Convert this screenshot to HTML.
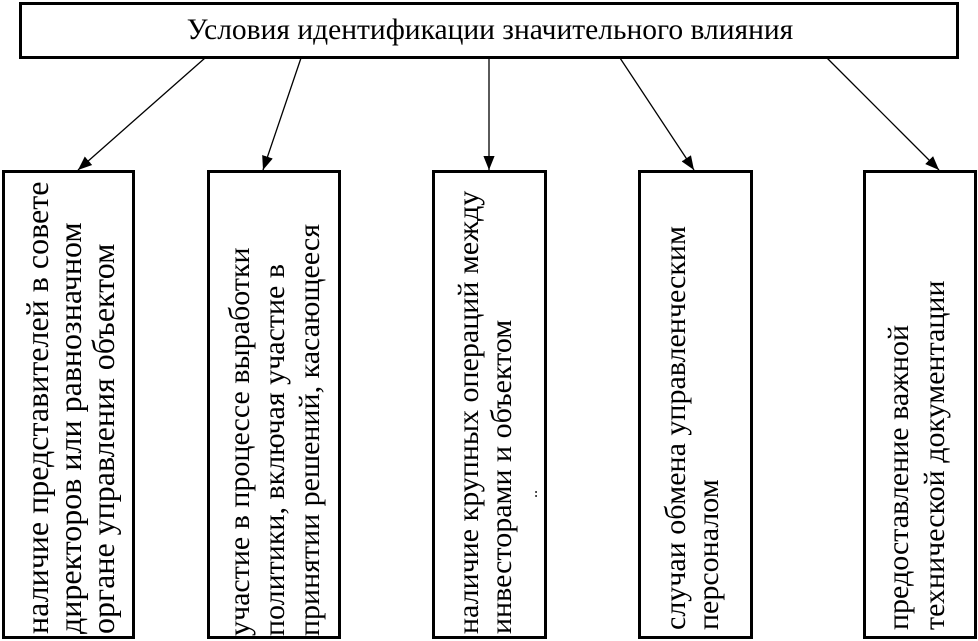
<!DOCTYPE html>
<html><head><meta charset="utf-8"><style>
html,body{margin:0;padding:0;background:#fff;}
svg{display:block;}
text{font-family:"Liberation Serif",serif;font-size:30px;fill:#000;}
</style></head><body>
<svg width="978" height="641" viewBox="0 0 978 641" xmlns="http://www.w3.org/2000/svg">
<defs>
<marker id="b" viewBox="0 0 10 10" refX="10" refY="5" markerWidth="14" markerHeight="14" orient="auto" markerUnits="userSpaceOnUse"><path d="M0,1 L10,5 L0,9 z" fill="#000"/></marker></defs>
<rect x="20.5" y="3.5" width="937" height="54" fill="#fff" stroke="#000" stroke-width="3"/>
<text x="490" y="39" text-anchor="middle" style="font-size:29.5px">Условия идентификации значительного влияния</text>
<g stroke="#000" stroke-width="1.3" fill="none">
<line x1="205" y1="58" x2="78" y2="170" marker-end="url(#b)"/>
<line x1="301" y1="58" x2="263" y2="170" marker-end="url(#b)"/>
<line x1="489" y1="58" x2="489" y2="170" marker-end="url(#b)"/>
<line x1="620" y1="58" x2="694" y2="170" marker-end="url(#b)"/>
<line x1="827" y1="58" x2="939" y2="170" marker-end="url(#b)"/>
</g>
<g fill="#fff" stroke="#000" stroke-width="3">
<rect x="3.5" y="171.5" width="130" height="466"/>
<rect x="208.5" y="171.5" width="131" height="466"/>
<rect x="433.5" y="171.5" width="112" height="466"/>
<rect x="639.5" y="171.5" width="112" height="466"/>
<rect x="864.5" y="171.5" width="111" height="466"/>
</g>
<g style="font-size:30px">
<text transform="translate(48,634) rotate(-90)" style="font-size:32px">наличие представителей в совете</text>
<text transform="translate(81,634) rotate(-90)" style="font-size:32px">директоров или равнозначном</text>
<text transform="translate(114,634) rotate(-90)" style="font-size:32px">органе управления объектом</text>
<text transform="translate(249,636) rotate(-90)">участие в процессе выработки</text>
<text transform="translate(284,636) rotate(-90)">политики, включая участие в</text>
<text transform="translate(319,636) rotate(-90)">принятии решений, касающееся</text>
<text transform="translate(478,634) rotate(-90)">наличие крупных операций между</text>
<text transform="translate(511,634) rotate(-90)">инвесторами и объектом</text>
<text transform="translate(537,498) rotate(-90)" style="font-size:16px">..</text>
<text transform="translate(685,630) rotate(-90)">случаи обмена управленческим</text>
<text transform="translate(718,630) rotate(-90)">персоналом</text>
<text transform="translate(908,630) rotate(-90)">предоставление важной</text>
<text transform="translate(944,630) rotate(-90)">технической документации</text>
</g>
</svg>
</body></html>
